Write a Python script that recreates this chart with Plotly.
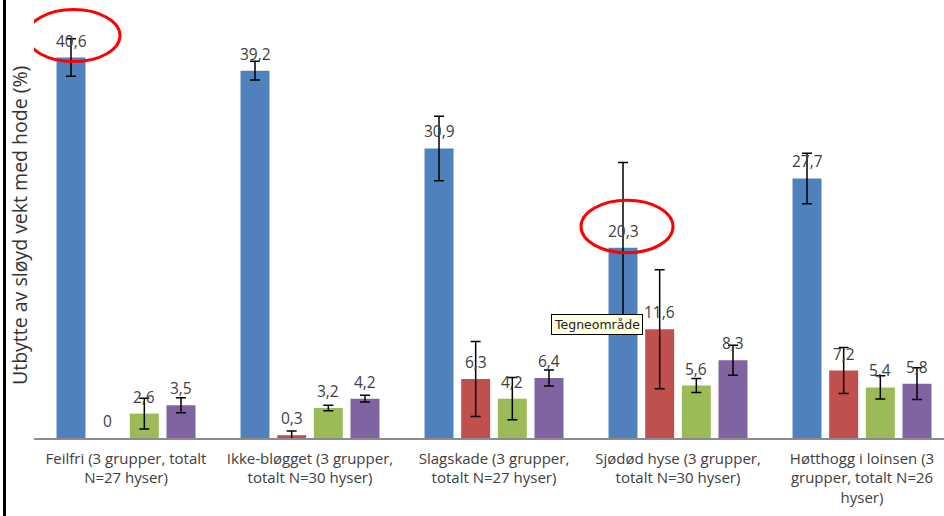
import plotly.graph_objects as go

categories = [
    "Feilfri (3 grupper, totalt<br>N=27 hyser)",
    "Ikke-bløgget (3 grupper,<br>totalt N=30 hyser)",
    "Slagskade (3 grupper,<br>totalt N=27 hyser)",
    "Sjødød hyse (3 grupper,<br>totalt N=30 hyser)",
    "Høtthogg i loinsen (3<br>grupper, totalt N=26<br>hyser)",
]
series_blue = [40.6, 39.2, 30.9, 20.3, 27.7]
series_red = [0.0, 0.3, 6.3, 11.6, 7.2]
series_green = [2.6, 3.2, 4.2, 5.6, 5.4]
series_purple = [3.5, 4.2, 6.4, 8.3, 5.8]
err_blue = [2.0, 1.0, 3.45, 9.1, 2.7]
err_red = [0.0, 0.45, 4.0, 6.35, 2.45]
err_green = [1.65, 0.3, 2.25, 0.75, 1.25]
err_purple = [0.8, 0.35, 0.85, 1.6, 1.7]

series = [series_blue, series_red, series_green, series_purple]
errors = [err_blue, err_red, err_green, err_purple]
colors = ["#4F81BD", "#C0504D", "#9BBB59", "#8064A2"]

W, H = 944, 516
ML, MR, MT, MB = 34, 0, 0, 78
BARGAP = 0.203
BARGROUPGAP = 0.21
CAT_PX = 184.0
PX_PER_UNIT = 9.37
FONT = "Open Sans"

plot_w = W - ML - MR
plot_h = H - MT - MB
x_range = [-0.5, -0.5 + plot_w / CAT_PX]
y_range = [0, plot_h / PX_PER_UNIT]

idx = list(range(len(categories)))

def fmt(v):
    if v == 0:
        return "0"
    return f"{v:.1f}".replace(".", ",")

fig = go.Figure()
for k, (vals, errs, col) in enumerate(zip(series, errors, colors)):
    show = [v if v > 0 else None for v in vals]
    fig.add_trace(go.Bar(
        x=idx, y=show, marker=dict(color=col, line=dict(width=0)),
        error_y=dict(type="data", array=errs, visible=True, color="#000000",
                     thickness=1.5, width=5),
        showlegend=False, hoverinfo="skip",
    ))

slot = (1 - BARGAP) / len(series)
annotations = []
for k, vals in enumerate(series):
    off = (k - (len(series) - 1) / 2) * slot
    for i, v in enumerate(vals):
        annotations.append(dict(
            x=i + off, y=v, xref="x", yref="y", text=fmt(v), showarrow=False,
            yanchor="middle", yshift=17, font=dict(family=FONT, size=15.5, color="#404040"),
        ))

# y axis title
annotations.append(dict(
    x=(19 - ML) / plot_w, y=(plot_h - 226) / plot_h, xref="paper", yref="paper",
    text="Utbytte av sløyd vekt med hode (%)", textangle=-90, showarrow=False,
    xanchor="center", yanchor="middle", font=dict(family=FONT, size=19.5, color="#333333"),
))

# tooltip
annotations.append(dict(
    x=(597 - ML) / plot_w, y=(plot_h - 324) / plot_h, xref="paper", yref="paper",
    text="Tegneområde", showarrow=False, xanchor="center", yanchor="middle",
    bgcolor="#FFFFE1", bordercolor="#000000", borderwidth=1, borderpad=2,
    font=dict(family="DejaVu Sans", size=12.5, color="#222222"),
))

shapes = [
    dict(type="line", xref="paper", yref="paper",
         x0=(4.5 - ML) / plot_w, x1=(4.5 - ML) / plot_w, y0=-MB / plot_h, y1=1,
         line=dict(color="#000000", width=3)),
]

def ellipse(cat_i, k, dx0, dx1, dy0, dy1):
    off = (k - (len(series) - 1) / 2) * slot
    return dict(type="circle", xref="x", yref="y", xsizemode="pixel", ysizemode="pixel",
                xanchor=cat_i + off, yanchor=series[k][cat_i],
                x0=dx0, x1=dx1, y0=dy0, y1=dy1,
                line=dict(color="#FF0000", width=3))

shapes.append(ellipse(0, 0, -44, 49, -4, 48))
shapes.append(ellipse(3, 0, -42, 50, -5, 47.5))

fig.update_layout(
    width=W, height=H, margin=dict(l=ML, r=MR, t=MT, b=MB),
    paper_bgcolor="#FFFFFF", plot_bgcolor="#FFFFFF",
    barmode="group", bargap=BARGAP, bargroupgap=BARGROUPGAP,
    annotations=annotations, shapes=shapes,
    xaxis=dict(range=x_range, tickvals=idx, ticktext=categories, showgrid=False,
               zeroline=False, showline=True, linecolor="#8C8C8C", linewidth=1.5,
               ticks="", ticklabelstandoff=6,
               tickfont=dict(family=FONT, size=15, color="#404040")),
    yaxis=dict(range=y_range, showgrid=False, zeroline=False, showline=False,
               showticklabels=False, ticks=""),
)

fig.write_html("out.html", config={"displayModeBar": False},
               post_script="document.body.style.margin='0';document.body.style.overflow='hidden';")
